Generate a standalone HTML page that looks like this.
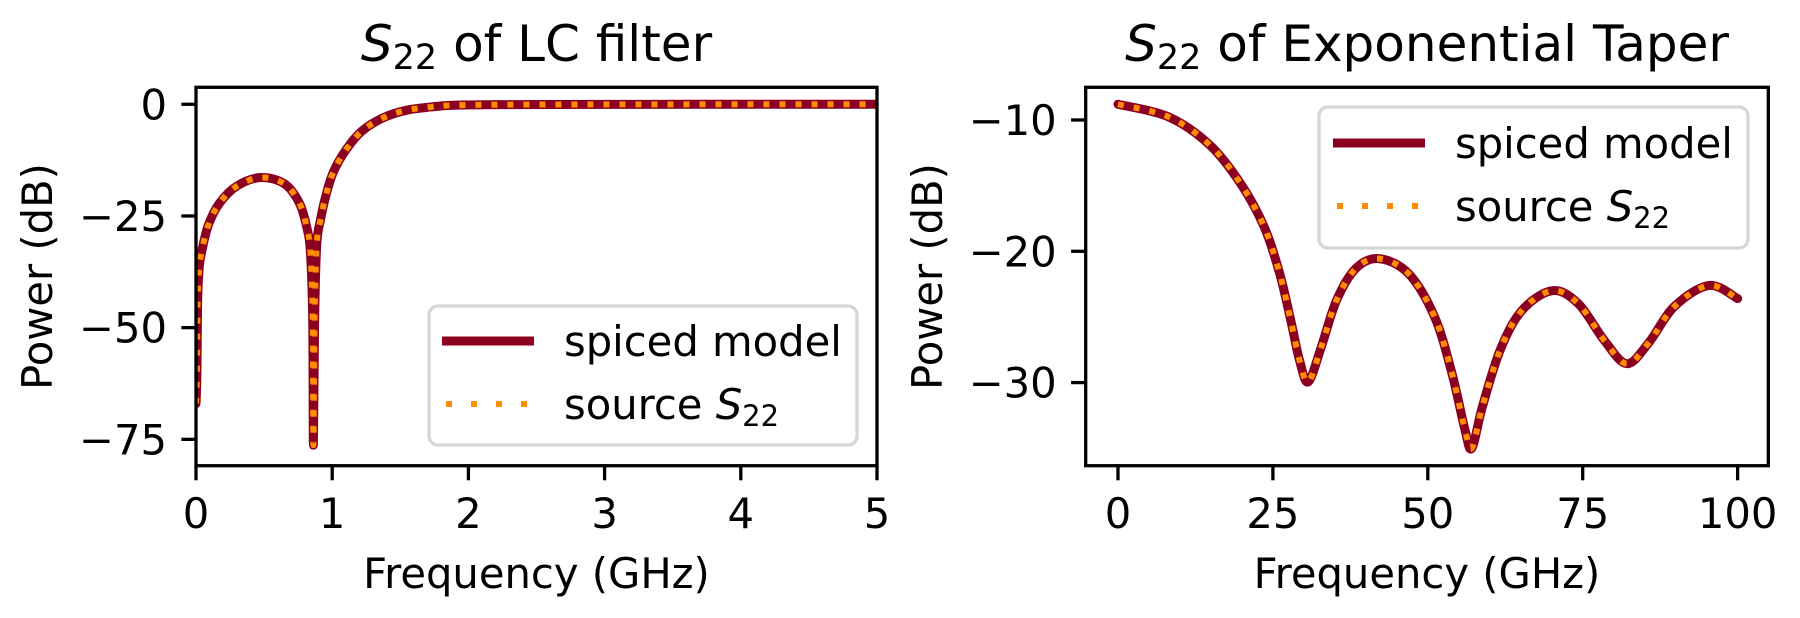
<!DOCTYPE html>
<html><head><meta charset="utf-8"><style>
html,body{margin:0;padding:0;background:#fff;}
svg{display:block;font-family:"DejaVu Sans","Liberation Sans",sans-serif;}
</style></head><body>
<svg id="fig" width="1800" height="618" viewBox="0 0 1800 618" xmlns="http://www.w3.org/2000/svg">
<defs>
<clipPath id="clipL"><rect x="196" y="87.3" width="681" height="378.4"/></clipPath>
<clipPath id="clipR"><rect x="1085.7" y="87.3" width="682.6" height="378.4"/></clipPath>
</defs>
<g id="left"></g>
<g id="right"></g>
</svg>
<script>
// Left chart data: S22 of LC filter
const lcFreq = [0.0,0.007,0.012,0.024,0.044,0.09,0.171,0.3,0.477,0.649,0.759,0.813,0.84,0.857,0.862,0.871,0.886,0.913,0.954,1.008,1.101,1.216,1.371,1.542,1.725,1.909,2.3,3.0,4.0,5.0];
const lcPower = [-67,-60,-43.9,-36.4,-32.7,-27.1,-22.2,-18.3,-16.4,-17.8,-22.1,-27.5,-33.1,-48.4,-76.3,-48.4,-31.6,-26.0,-20.4,-15.2,-10.2,-6.05,-3.07,-1.35,-0.6,-0.2,-0.08,-0.03,0,0];
const lcXTicks = [0,1,2,3,4,5];
const lcYTicks = [0,-25,-50,-75];
// Right chart data: S22 of exponential taper
const etFreq = [0,8.2,14.8,19.8,23.6,26.1,27.9,29.3,30.7,32.8,35.3,38.4,42.1,46.9,51.1,53.9,56.0,57.1,58.8,61.7,65.2,70.1,74.3,78.5,82.1,85.6,89.8,95.4,100];
const etPower = [-8.8,-9.77,-11.9,-14.85,-18.15,-21.7,-25.3,-28.3,-29.95,-27.3,-23.7,-21.3,-20.56,-21.7,-25.0,-29.3,-33.6,-35.0,-31.85,-27.5,-24.5,-23.0,-24.0,-26.8,-28.56,-27.0,-24.2,-22.6,-23.6];
const etXTicks = [0,25,50,75,100];
const etYTicks = [-10,-20,-30];

const NS="http://www.w3.org/2000/svg";
function mk(parent,tag,attrs,text){const e=document.createElementNS(NS,tag);for(const k in attrs)e.setAttribute(k,attrs[k]);if(text!==undefined)e.textContent=text;parent.appendChild(e);return e;}
function smoothPath(pts){
  let d=`M${pts[0][0]},${pts[0][1]}`;
  for(let i=0;i<pts.length-1;i++){
    const p0=pts[i-1]||pts[i],p1=pts[i],p2=pts[i+1],p3=pts[i+2]||p2;
    const t=1/6;
    const c1=[p1[0]+(p2[0]-p0[0])*t,p1[1]+(p2[1]-p0[1])*t];
    const c2=[p2[0]-(p3[0]-p1[0])*t,p2[1]-(p3[1]-p1[1])*t];
    d+=` C${c1[0]},${c1[1]} ${c2[0]},${c2[1]} ${p2[0]},${p2[1]}`;
  }
  return d;
}
function fmt(v){return v<0?"\u2212"+Math.abs(v):String(v);}

function chart(g,cfg){
  const {L,R,T,B,xmin,xmax,ymin,ymax,xs,ys,xt,yt,clip,title,legend,ylabX}=cfg;
  const X=v=>L+(v-xmin)/(xmax-xmin)*(R-L);
  const Y=v=>B-(v-ymin)/(ymax-ymin)*(B-T);
  const pts=xs.map((x,i)=>[X(x),Y(ys[i])]);
  const d=smoothPath(pts);
  const cg=mk(g,"g",{"clip-path":`url(#${clip})`});
  const l1=mk(cg,"path",{d:d,fill:"none",stroke:"#8b0020","stroke-width":9,"stroke-linejoin":"round","stroke-linecap":"round"});
  
  
  const l2=mk(cg,"path",{d:d,fill:"none",stroke:"#ff8c00","stroke-width":6,"stroke-dasharray":"6 10"});
  
  
  const fr=mk(g,"rect",{x:L,y:T,width:R-L,height:B-T,fill:"none",stroke:"#000","stroke-width":3.3});
  
  
  xt.forEach(v=>{
    const x=X(v);
    mk(g,"line",{x1:x,x2:x,y1:B,y2:B+14.6,stroke:"#000","stroke-width":3.3});
    const t=mk(g,"text",{x:x,y:528,"font-size":41.7,"text-anchor":"middle"},fmt(v));
    
    
  });
  yt.forEach(v=>{
    const y=Y(v);
    mk(g,"line",{x1:L,x2:L-14.6,y1:y,y2:y,stroke:"#000","stroke-width":3.3});
    const t=mk(g,"text",{x:L-29,y:y+15,"font-size":41.7,"text-anchor":"end"},fmt(v));
    
    
  });
  const xl=mk(g,"text",{x:(L+R)/2,y:588,"font-size":41.7,"text-anchor":"middle"},"Frequency (GHz)");
  
  
  const yl=mk(g,"text",{x:0,y:0,"font-size":41.7,"text-anchor":"middle",transform:`translate(${ylabX},${(T+B)/2}) rotate(-90)`},"Power (dB)");
  
  
  const tt=mk(g,"text",{x:(L+R)/2,y:61,"font-size":50,"text-anchor":"middle"});
  
  
  mk(tt,"tspan",{"font-style":"italic"},"S");
  mk(tt,"tspan",{"font-size":35,dy:8},"22");
  mk(tt,"tspan",{dy:-8},title);
  // legend
  const lg=mk(g,"g",{});
  
  
  mk(lg,"rect",{x:legend.x,y:legend.y,width:legend.w,height:legend.h,rx:9,fill:"#fff","fill-opacity":0.8,stroke:"#d6d6d6","stroke-width":3.3});
  const s1=mk(lg,"line",{x1:legend.lx,x2:legend.lx+92,y1:legend.y1,y2:legend.y1,stroke:"#8b0020","stroke-width":9});
  
  
  const s2=mk(lg,"line",{x1:legend.lx+4,x2:legend.lx+92,y1:legend.y2,y2:legend.y2,stroke:"#ff8c00","stroke-width":6,"stroke-dasharray":"6 19"});
  
  
  mk(lg,"text",{x:legend.tx,y:legend.y1+15,"font-size":41.7},"spiced model");
  const st=mk(lg,"text",{x:legend.tx,y:legend.y2+15,"font-size":41.7});
  mk(st,"tspan",{},"source ");
  mk(st,"tspan",{"font-style":"italic"},"S");
  mk(st,"tspan",{"font-size":29,dy:7},"22");
}
chart(document.getElementById("left"),{L:196,R:877,T:87.3,B:465.7,xmin:0,xmax:5,ymin:-80.9,ymax:3.8,xs:lcFreq,ys:lcPower,xt:lcXTicks,yt:lcYTicks,clip:"clipL",title:" of LC filter",ylabX:52,
  legend:{x:429,y:306,w:428,h:139,lx:442,y1:341,y2:404,tx:564}});
chart(document.getElementById("right"),{L:1085.7,R:1768.3,T:87.3,B:465.7,xmin:-5.21,xmax:104.95,ymin:-36.33,ymax:-7.51,xs:etFreq,ys:etPower,xt:etXTicks,yt:etYTicks,clip:"clipR",title:" of Exponential Taper",ylabX:942,
  legend:{x:1319,y:107,w:429,h:141,lx:1333,y1:143,y2:206,tx:1455}});
</script>
</body></html>
